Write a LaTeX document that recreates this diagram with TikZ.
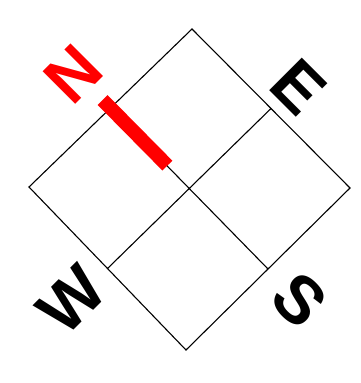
\documentclass[tikz,border=0pt]{standalone}
\usepackage{fontspec}
\setmainfont{Liberation Sans}
\usepackage{xcolor}
\usepackage{tikz}
\usetikzlibrary{calc}

\begin{document}
\begin{tikzpicture}[
          x=1pt, y=-1pt,
          grid line/.style={draw=black, line width=1.1pt},
          letter/.style={inner sep=0pt, font=\fontsize{67}{67}\bfseries\selectfont}
        ]
          \useasboundingbox (0,0) rectangle (361,383);
          % corners of the square
          \coordinate (top) at (192,29);
          \coordinate (right) at (350,188);
          \coordinate (bottom) at (186,350);
          \coordinate (left) at (29,187);
          \coordinate (mid) at (189.5,188);
          % middles of the sides
          \coordinate (nw) at ($(left)!0.5!(top)$);
          \coordinate (ne) at ($(top)!0.5!(right)$);
          \coordinate (se) at ($(right)!0.5!(bottom)$);
          \coordinate (sw) at ($(bottom)!0.5!(left)$);
          \draw[grid line] (top) -- (right) -- (bottom) -- (left) -- cycle;
          \draw[grid line] (nw) -- (se);
          \draw[grid line] (ne) -- (sw);
          % needle
          \draw[red, line width=14pt] ($(nw)!-0.1!(mid)$) -- ($(nw)!0.72!(mid)$);
          \node[letter, red, rotate=45] (n) at (73,74) {N};
          \node[letter, rotate=-45] (e) at (299,87) {E};
          \node[letter, rotate=45] (w) at (72,300) {W};
          \node[letter, rotate=-45] (s) at (300,300) {S};
        \end{tikzpicture}
\end{document}
